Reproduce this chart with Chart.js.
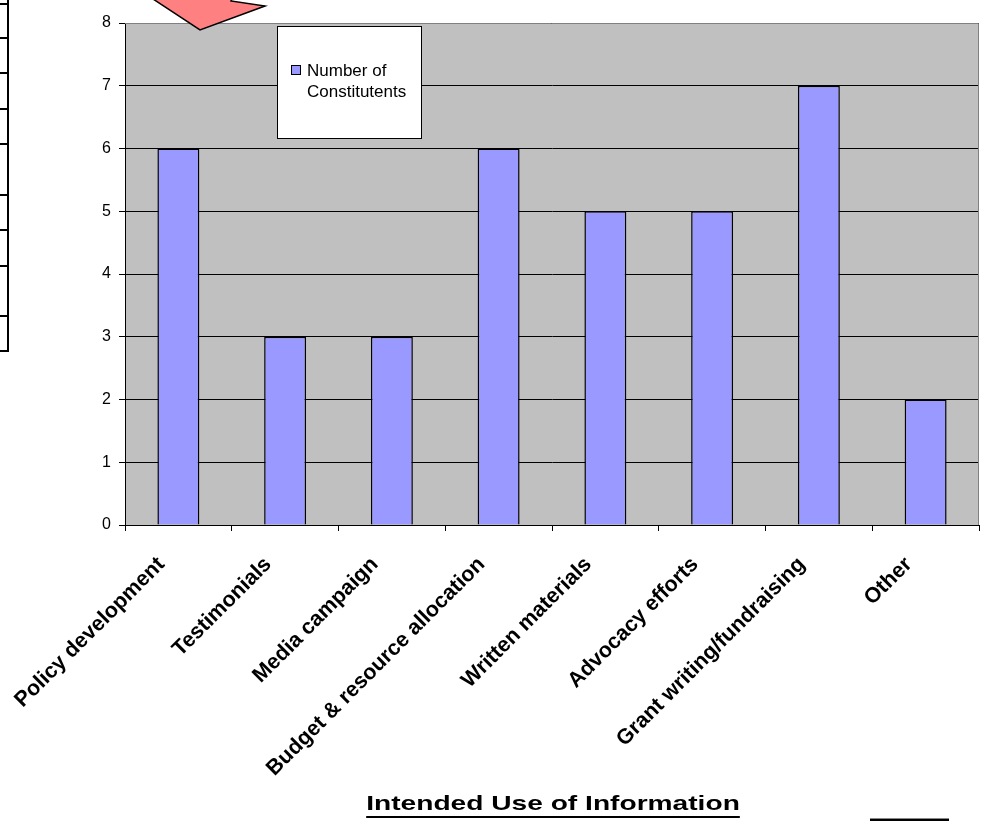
<!DOCTYPE html>
<html><head><meta charset="utf-8">
<script src="https://cdn.jsdelivr.net/npm/chart.js@4/dist/chart.umd.min.js"></script>
<style>html,body{margin:0;padding:0;background:#fff;overflow:hidden}canvas{display:block}</style>
</head><body>
<canvas id="c" width="985" height="821"></canvas>
<script>
const categories = ['Policy development','Testimonials','Media campaign','Budget & resource allocation','Written materials','Advocacy efforts','Grant writing/fundraising','Other'];
const constituents = [6,3,3,6,5,5,7,2];
const seriesName = 'Number of Constitutents';
const yTicks = [0,1,2,3,4,5,6,7,8];
const chartTitle = 'Intended Use of Information';
const FONT = "'Liberation Sans', Arial, Helvetica, sans-serif";

const decor = {
  id: 'decor',
  beforeDraw(chart) {
    const {ctx, chartArea: a} = chart;
    ctx.save();
    ctx.fillStyle = '#fff';
    ctx.fillRect(0, 0, chart.width, chart.height);
    ctx.fillStyle = '#C0C0C0';
    ctx.fillRect(a.left, a.top, a.right - a.left, a.bottom - a.top);
    ctx.restore();
  },
  afterDraw(chart) {
    const {ctx, chartArea: a} = chart;
    ctx.save();
    // plot border top/right (grey)
    ctx.strokeStyle = '#808080';
    ctx.lineWidth = 1;
    ctx.beginPath();
    ctx.moveTo(a.left, Math.round(a.top) + 0.5);
    ctx.lineTo(Math.round(a.right) - 0.5, Math.round(a.top) + 0.5);
    ctx.lineTo(Math.round(a.right) - 0.5, a.bottom);
    ctx.stroke();

    // legend box
    const ds = chart.data.datasets[0];
    const bx = 277.5, by = 26.5, bw = 144, bh = 112;
    ctx.fillStyle = '#fff';
    ctx.fillRect(bx, by, bw, bh);
    ctx.strokeStyle = '#000';
    ctx.strokeRect(bx, by, bw, bh);
    ctx.fillStyle = ds.backgroundColor;
    ctx.fillRect(291.5, 65.5, 9, 9);
    ctx.strokeRect(291.5, 65.5, 9, 9);
    const cut = ds.label.lastIndexOf(' ');
    const lines = [ds.label.slice(0, cut), ds.label.slice(cut + 1)];
    ctx.fillStyle = '#000';
    ctx.font = '17px ' + FONT;
    ctx.textBaseline = 'middle';
    ctx.textAlign = 'left';
    lines.forEach((t, i) => ctx.fillText(t, 307, 71 + i * 21));

    // title, underlined
    ctx.save();
    ctx.font = 'bold 21px ' + FONT;
    const tw = ctx.measureText(chartTitle).width;
    const sx = 1.34;
    const cx = 553;
    ctx.translate(cx, 810);
    ctx.scale(sx, 1);
    ctx.textAlign = 'center';
    ctx.textBaseline = 'alphabetic';
    ctx.fillText(chartTitle, 0, 0);
    ctx.fillRect(-tw / 2, 6, tw, 2);
    ctx.restore();

    // decorative arrow (top-left)
    ctx.beginPath();
    ctx.moveTo(150, -3);
    ctx.lineTo(200, 30);
    ctx.lineTo(265, 6);
    ctx.lineTo(231, 1);
    ctx.lineTo(233, -3);
    ctx.closePath();
    ctx.fillStyle = '#FF8080';
    ctx.fill();
    ctx.strokeStyle = '#000';
    ctx.lineWidth = 1.5;
    ctx.stroke();

    // table edge at left
    ctx.lineWidth = 2;
    ctx.beginPath();
    ctx.moveTo(8, 0); ctx.lineTo(8, 352);
    [4, 38, 73, 109, 144, 195, 230, 266, 316, 351].forEach(y => { ctx.moveTo(0, y); ctx.lineTo(9, y); });
    ctx.stroke();

    // object edge at bottom-right
    ctx.fillStyle = '#000';
    ctx.fillRect(870, 819, 79, 2);
    ctx.fillStyle = '#888';
    ctx.fillRect(870, 818, 79, 1);
    ctx.restore();
  }
};

new Chart(document.getElementById('c'), {
  type: 'bar',
  data: {
    labels: categories,
    datasets: [{
      label: seriesName,
      data: constituents,
      backgroundColor: '#9999FF',
      borderColor: '#000',
      borderWidth: 1.5,
      barPercentage: 0.393,
      categoryPercentage: 1
    }]
  },
  options: {
    responsive: false,
    animation: false,
    devicePixelRatio: 1,
    layout: {padding: {top: 23, right: 6, left: 0, bottom: 0}},
    plugins: {legend: {display: false}, title: {display: false}, tooltip: {enabled: false}},
    scales: {
      x: {
        ticks: {color: '#000', font: {family: FONT, size: 21.5, weight: 'bold'}, minRotation: 45, maxRotation: 45, autoSkip: false, labelOffset: -17, padding: 21},
        grid: {display: true, drawOnChartArea: false, offset: true, tickLength: 6, tickColor: '#000', color: '#000'},
        border: {color: '#000', width: 1},
        afterFit(s) { s.height = 296; s.paddingLeft = 0; s.paddingRight = 0; }
      },
      y: {
        min: 0, max: 8,
        afterBuildTicks(s) { s.ticks = yTicks.map(v => ({value: v})); },
        ticks: {color: '#000', font: {family: FONT, size: 16}, padding: 8},
        grid: {color: '#000', lineWidth: 1, tickLength: 6, tickColor: '#000'},
        border: {color: '#000', width: 1},
        afterFit(s) { s.width = 125; }
      }
    }
  },
  plugins: [decor]
});
</script>
</body></html>
